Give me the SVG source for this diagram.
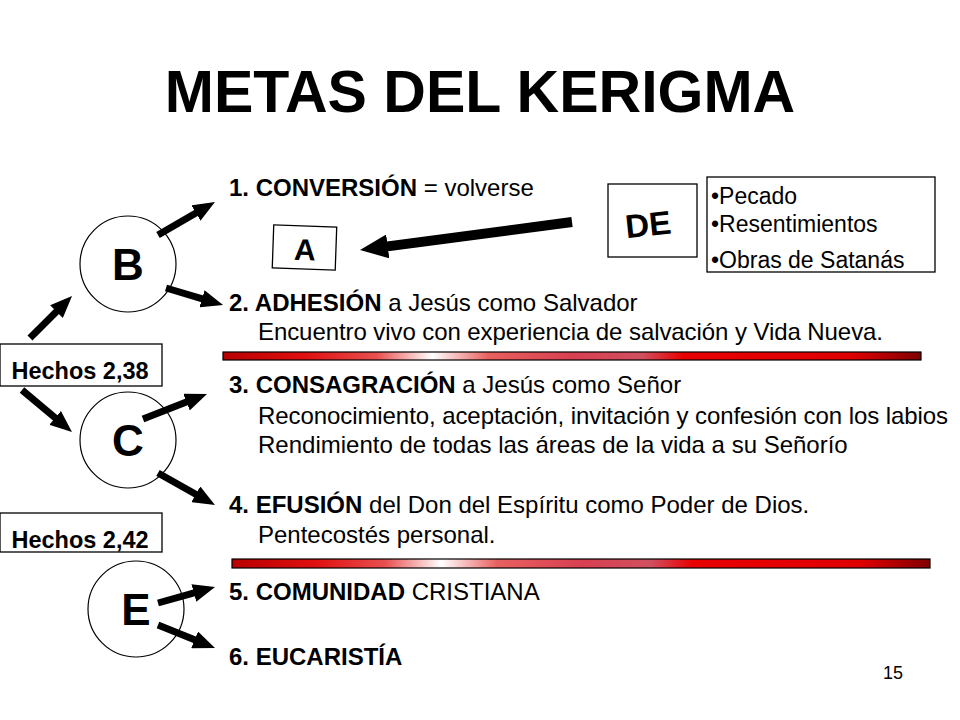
<svg xmlns="http://www.w3.org/2000/svg" width="960" height="720" viewBox="0 0 960 720">
<style>
text{font-family:"Liberation Sans",Arial,sans-serif;fill:#000}
.b{font-weight:bold}
.body{font-size:24px}
.node circle{fill:#fff;stroke:#000;stroke-width:1.2}
.node text{font-size:44px;font-weight:bold;text-anchor:middle}
.box{fill:#fff;stroke:#000;stroke-width:1.3}
.arr{stroke:#000;stroke-width:7;fill:none;marker-end:url(#ah)}
.arrbig{stroke:#000;stroke-width:10;fill:none;marker-end:url(#ahb)}
.bar{stroke:#000;stroke-width:1.2;fill:url(#rg)}
</style>
<defs>
<marker id="ah" markerUnits="userSpaceOnUse" viewBox="0 0 22 18" markerWidth="22" markerHeight="18" refX="4" refY="9" orient="auto"><path d="M0,0 L22,9 L0,18 z" fill="#000"/></marker>
<marker id="ahb" markerUnits="userSpaceOnUse" viewBox="0 0 28 24" markerWidth="28" markerHeight="24" refX="4" refY="12" orient="auto"><path d="M0,0 L28,12 L0,24 z" fill="#000"/></marker>
<linearGradient id="rg" x1="0" y1="0" x2="1" y2="0">
<stop offset="0" stop-color="#b80000"/>
<stop offset="0.12" stop-color="#e01010"/>
<stop offset="0.22" stop-color="#e85050"/>
<stop offset="0.3" stop-color="#ffffff"/>
<stop offset="0.38" stop-color="#e86060"/>
<stop offset="0.5" stop-color="#d84050"/>
<stop offset="0.6" stop-color="#d05060"/>
<stop offset="0.66" stop-color="#e80000"/>
<stop offset="0.9" stop-color="#e00000"/>
<stop offset="1" stop-color="#800000"/>
</linearGradient>
</defs>
<rect width="960" height="720" fill="#fff"/>

<text x="480" y="112" class="b" font-size="59" text-anchor="middle">METAS DEL KERIGMA</text>

<g id="node-B" class="node"><circle cx="128" cy="264" r="48"/><text x="128" y="280">B</text></g>
<g id="node-C" class="node"><circle cx="128" cy="440" r="48"/><text x="128" y="456">C</text></g>
<g id="node-E" class="node"><circle cx="136" cy="609" r="48"/><text x="136" y="625">E</text></g>

<g id="hechos-238"><rect class="box" x="0" y="344" width="162" height="42"/><text x="80" y="379" class="b" font-size="23.5" text-anchor="middle">Hechos 2,38</text></g>
<g id="hechos-242"><rect class="box" x="0" y="513" width="162" height="39"/><text x="80" y="548" class="b" font-size="23.5" text-anchor="middle">Hechos 2,42</text></g>

<g id="box-A" transform="rotate(2 304 247)"><rect class="box" x="273" y="226" width="63" height="43"/><text x="305" y="260" class="b" font-size="30" text-anchor="middle">A</text></g>
<g id="box-DE"><rect class="box" x="608" y="184" width="89" height="73"/><text x="648" y="236" class="b" font-size="33" text-anchor="middle" transform="rotate(-6 648 224)">DE</text></g>
<g id="box-list"><rect class="box" x="707" y="177" width="228" height="95"/>
<text x="711" y="204" font-size="23">•Pecado</text>
<text x="711" y="232" font-size="23">•Resentimientos</text>
<text x="711" y="268" font-size="23">•Obras de Satanás</text></g>

<g id="items" class="body">
<text x="229" y="196" class="body"><tspan class="b">1. CONVERSIÓN</tspan> = volverse</text>
<text x="229" y="311" class="body"><tspan class="b">2. ADHESIÓN</tspan> a Jesús como Salvador</text>
<text x="258" y="340" class="body" textLength="625" lengthAdjust="spacing">Encuentro vivo con experiencia de salvación y Vida Nueva.</text>
<text x="229" y="393" class="body"><tspan class="b">3. CONSAGRACIÓN</tspan> a Jesús como Señor</text>
<text x="258" y="424" class="body" textLength="690" lengthAdjust="spacing">Reconocimiento, aceptación, invitación y confesión con los labios</text>
<text x="258" y="453" class="body">Rendimiento de todas las áreas de la vida a su Señorío</text>
<text x="229" y="513" class="body"><tspan class="b">4. EFUSIÓN</tspan> del Don del Espíritu como Poder de Dios.</text>
<text x="258" y="543" class="body">Pentecostés personal.</text>
<text x="229" y="600" class="body"><tspan class="b">5. COMUNIDAD</tspan> CRISTIANA</text>
<text x="229" y="665" class="body b">6. EUCARISTÍA</text>
</g>

<g id="bars">
<rect class="bar" x="223" y="352" width="698" height="8"/>
<rect class="bar" x="232" y="559" width="698" height="9"/>
</g>

<g id="connectors">
<line class="arr" x1="30" y1="338" x2="59.3" y2="308.7"/>
<line class="arr" x1="158" y1="235" x2="199.4" y2="211"/>
<line class="arr" x1="166" y1="288" x2="205.8" y2="299.9"/>
<line class="arr" x1="22" y1="390" x2="58.2" y2="420.4"/>
<line class="arr" x1="143" y1="419" x2="190.2" y2="400.6"/>
<line class="arr" x1="158" y1="473" x2="199.3" y2="496.2"/>
<line class="arr" x1="158" y1="603" x2="197.7" y2="591.9"/>
<line class="arr" x1="158" y1="625" x2="198.3" y2="641.3"/>
<line class="arrbig" x1="572" y1="222" x2="383.8" y2="246.9"/>
</g>

<text x="893" y="679" font-size="18" text-anchor="middle">15</text>
</svg>
